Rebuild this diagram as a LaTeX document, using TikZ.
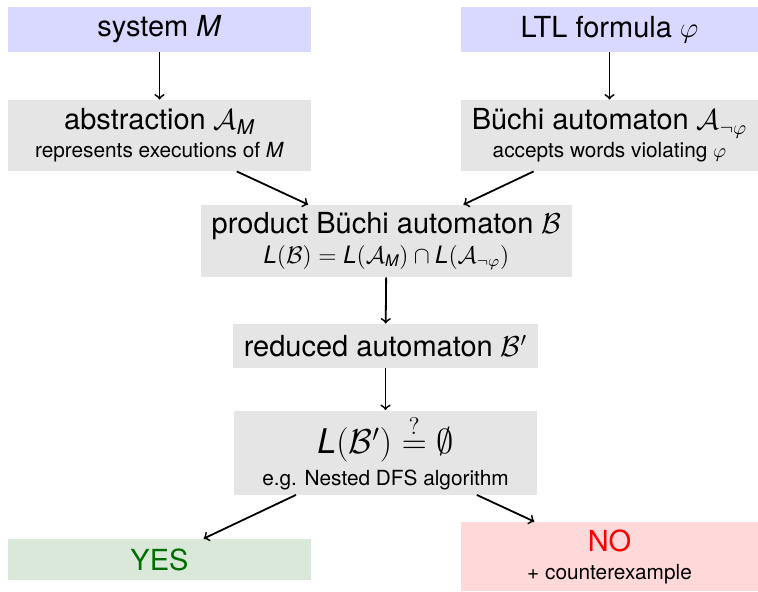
\documentclass[tikz,border=0pt]{standalone}
\usepackage{amsmath}
\usepackage{fontspec}
\setmainfont{TeX Gyre Heros}
\definecolor{inputblue}{RGB}{217,217,255}
\definecolor{boxgray}{RGB}{229,229,229}
\definecolor{yesgreen}{RGB}{217,232,217}
\definecolor{nored}{RGB}{255,217,217}
\definecolor{yestext}{RGB}{0,110,0}
\newcommand{\bigtxt}{\fontsize{14.5}{16}\selectfont}
\newcommand{\smalltxt}{\fontsize{10.4}{12}\selectfont}
\newcommand{\formtxt}{\fontsize{12}{13}\selectfont}
\newcommand{\hugetxt}{\fontsize{17}{19}\selectfont}
\begin{document}
\begin{tikzpicture}[x=0.5pt,y=-0.5pt,
    box/.style={fill=boxgray,inner sep=0pt,align=center,font=\bigtxt},
    input/.style={box,fill=inputblue},
    flow/.style={->,line width=0.9pt}]
    \useasboundingbox (0,0) rectangle (758,591);

    % Eingaben
    \node[input,minimum width=151.5pt,minimum height=22.5pt] (sys) at (159.5,29.5) {system \textit{M}};
    \node[input,minimum width=148.5pt,minimum height=22.5pt] (ltl) at (609.5,29.5) {LTL formula $\varphi$};

    \node[box,minimum width=151.5pt,minimum height=35.5pt] (abs) at (159.5,135.5)
        {abstraction $\mathcal{A}_{\textit{M}}$\\[-2pt] {\smalltxt represents executions of \textit{M}}};
    \node[box,minimum width=148.5pt,minimum height=35.5pt] (buechi) at (609.5,135.5)
        {Büchi automaton $\mathcal{A}_{\neg\varphi}$\\[-2pt] {\smalltxt accepts words violating $\varphi$}};

    \node[box,minimum width=185.5pt,minimum height=36pt] (prod) at (386.5,241)
        {product Büchi automaton $\mathcal{B}$\\[-1pt]
         {\formtxt $\textit{L}(\mathcal{B}) = \textit{L}(\mathcal{A}_{\textit{M}}) \cap \textit{L}(\mathcal{A}_{\neg\varphi})$}};
    \node[box,minimum width=152.5pt,minimum height=22pt] (red) at (385.5,346) {reduced automaton $\mathcal{B}'$};
    \node[box,minimum width=151.5pt,minimum height=42pt] (check) at (385.5,452.5)
        {{\hugetxt $\textit{L}(\mathcal{B}') \stackrel{?}{=} \emptyset$}\\[0pt] {\smalltxt e.g. Nested DFS algorithm}};

    % Ergebnis
    \node[box,fill=yesgreen,minimum width=151.5pt,minimum height=20.5pt,text=yestext] (yes) at (159.5,559.5) {YES};
    \node[box,fill=nored,minimum width=148.5pt,minimum height=34.5pt] (no) at (609.5,556.5)
        {{\color{red}NO}\\[-2pt] {\smalltxt + counterexample}};

    \draw[flow] (sys) -- (abs);
    \draw[flow] (ltl) -- (buechi);
    \draw[flow] (abs) -- (prod);
    \draw[flow] (buechi) -- (prod);
    \draw[flow] (prod) -- (red);
    \draw[flow] (red) -- (check);
    \draw[flow] (check) -- (yes);
    \draw[flow] (check) -- (no);
\end{tikzpicture}
\end{document}
